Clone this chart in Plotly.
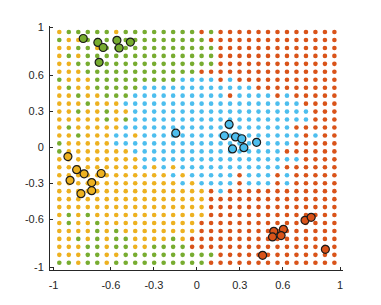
import numpy as np
import plotly.graph_objects as go

# grid of predicted classes (rows from top y=0.96 to bottom y=-0.96, columns from x=-0.96 to 0.96)
grid_x = np.linspace(-0.96, 0.96, 30)
grid_y = np.linspace(0.96, -0.96, 30)
grid_rows = [
    "OGGGGGOGGG" "GGGGGRGRRR" "RRRRRRRRRR",
    "GOOGGGGGGG" "GGGGGGRRRR" "RRRRRRRRRR",
    "OOGGOGGGGG" "GGGGGGGRRR" "RRRRRRRRRR",
    "OGOGGGGGGG" "GGGGGGGRRR" "RRRRRRRRRR",
    "OOGGGGGGGG" "GGGGGGGRRR" "RRRRRRRRRR",
    "OOOGGGGGGG" "GGGGGRRRRR" "RRRRRRRRRR",
    "GOOOGGGGGG" "GGGBBBBRBR" "RRRRRRRRRR",
    "OGOOGGGGGB" "BBBBBBBBBB" "BRRRRRRRRR",
    "OOGOOGGGBB" "BBBBBBBBRB" "BBBRBRRRRR",
    "OOOGOOOBBB" "BBBBBBBBBB" "BBBBBBRRRR",
    "OOGOOGOOBB" "BBBBBBBBBB" "BBBBBBBRRR",
    "OOOOOGOGBB" "BBBBBBBBBB" "BBBBBBBRRR",
    "OGOOOOOBBB" "BBBBBBBBBB" "BBBBBRRRRR",
    "OOGOOOBBOB" "BBBBBBBBBB" "BBBBBBRBRR",
    "GOOOOOBBBB" "BBBBBBBBBB" "BBBBBRRRRR",
    "GOOOOOOOBB" "BBBBBBBBBB" "BBBBRRRRRR",
    "OOOOOOOOOB" "BBBBBBBBBB" "BBBBBBRRRR",
    "OOOOOOOOOB" "OBOBBBBBBB" "BBBBRRRRRR",
    "OOOOOOOOOO" "OOBOBBBBBR" "BBBRBRRRRR",
    "OOOOOOOOOO" "OOOBOBBBBR" "BBBRBRRRRR",
    "OOOOOOOOOO" "OOOOOORBRR" "RRRRRRRRRR",
    "OOOOOOOOOO" "OOOOOORRRR" "RRRRRRRRRR",
    "OOOOOOOOOO" "OOOOOORRRR" "RRRRRRRRRR",
    "OGOGOOOOOO" "OOOOOORRRR" "RRRRRRRRRR",
    "OGOOGOOOOO" "OOOOORRRRR" "RRRRRRRRRR",
    "OOOOGOGOOO" "OOOOORRRRR" "RRRRRRRRRR",
    "OOGOGOGGOO" "OOGORRRRRR" "RRRRRRRRRR",
    "OOOGGOGGOO" "GGGGRRRRRR" "RRRRRRRRRR",
    "OOOGGOOGGG" "GGGGGGGRRR" "RRRRRRRRRR",
    "GGOGGOGGGG" "GGGGGGRRRR" "RRRRRRRRRR",
]

# training points per class
green_x = [-0.793, -0.691, -0.654, -0.558, -0.542, -0.464, -0.682]
green_y = [0.906, 0.873, 0.831, 0.891, 0.827, 0.876, 0.708]
blue_x = [-0.147, 0.225, 0.192, 0.270, 0.314, 0.417, 0.249, 0.328]
blue_y = [0.118, 0.191, 0.097, 0.087, 0.072, 0.042, -0.013, -0.002]
orange_x = [-0.900, -0.839, -0.787, -0.668, -0.885, -0.734, -0.734, -0.809]
orange_y = [-0.076, -0.185, -0.220, -0.217, -0.274, -0.293, -0.360, -0.385]
red_x = [0.537, 0.604, 0.528, 0.588, 0.755, 0.798, 0.459, 0.897]
red_y = [-0.698, -0.682, -0.745, -0.734, -0.607, -0.582, -0.898, -0.848]

tick_vals = [-1, -0.6, -0.3, 0, 0.3, 0.6, 1]
tick_text = ["-1", "-0.6", "-0.3", "0", "0.3", "0.6", "1"]

colors = {"O": "#EDB120", "G": "#77AC30", "B": "#4DBEEE", "R": "#D95319"}

fig = go.Figure()

for cls in ["O", "G", "B", "R"]:
    xs, ys = [], []
    for j, row in enumerate(grid_rows):
        assert len(row) == 30
        for i, c in enumerate(row):
            if c == cls:
                xs.append(grid_x[i])
                ys.append(grid_y[j])
    fig.add_trace(go.Scatter(x=xs, y=ys, mode="markers",
                             marker=dict(size=4.6, color=colors[cls], line=dict(width=0)),
                             hoverinfo="skip"))

for px, py, cls in [(green_x, green_y, "G"), (blue_x, blue_y, "B"),
                    (orange_x, orange_y, "O"), (red_x, red_y, "R")]:
    fig.add_trace(go.Scatter(x=px, y=py, mode="markers",
                             marker=dict(size=8, color=colors[cls],
                                         line=dict(width=1.2, color="#1a1a1a"))))

axis_common = dict(tickvals=tick_vals, ticktext=tick_text, ticks="inside", ticklen=3,
                   tickcolor="#262626", tickwidth=0.8,
                   showline=True, linecolor="#262626", linewidth=0.8,
                   showgrid=False, zeroline=False, mirror=False, automargin=False,
                   tickfont=dict(family="Liberation Sans, Arial, sans-serif", size=11, color="#262626"))

# the page body adds an 8px offset, so the figure is sized to land the axes
# on the same pixels as the reference
fig.update_layout(
    width=365, height=289,
    margin=dict(l=42, r=30, t=18, b=27, autoexpand=False),
    plot_bgcolor="white", paper_bgcolor="white",
    showlegend=False,
    xaxis=dict(range=[-1.025, 1.02], ticklabelstandoff=5, **axis_common),
    yaxis=dict(range=[-1.02, 1.01], ticklabelstandoff=3, **axis_common),
)

fig.write_html("out.html")
